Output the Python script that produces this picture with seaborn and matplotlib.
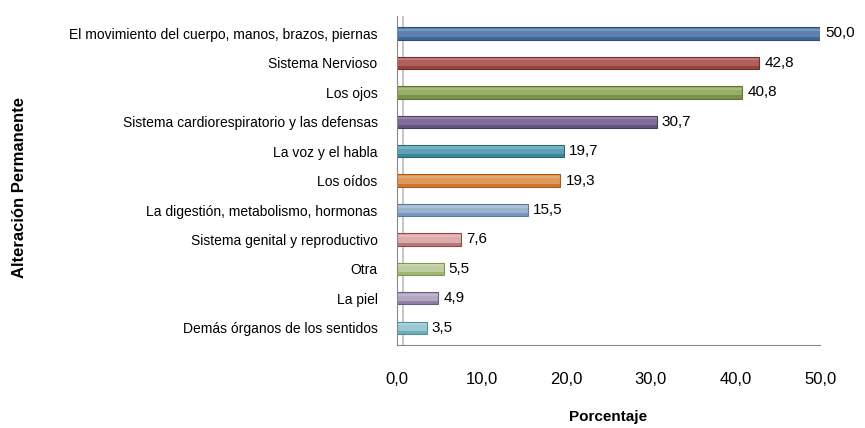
import matplotlib
matplotlib.use("Agg")
import matplotlib.pyplot as plt
import seaborn as sns
import pandas as pd

# Datos
categorias = [
    "El movimiento del cuerpo, manos, brazos, piernas",
    "Sistema Nervioso",
    "Los ojos",
    "Sistema cardiorespiratorio y las defensas",
    "La voz y el habla",
    "Los oídos",
    "La digestión, metabolismo, hormonas",
    "Sistema genital y reproductivo",
    "Otra",
    "La piel",
    "Demás órganos de los sentidos",
]
porcentajes = [50.0, 42.8, 40.8, 30.7, 19.7, 19.3, 15.5, 7.6, 5.5, 4.9, 3.5]
colores = ["#4F81BD", "#C0504D", "#9BBB59", "#8064A2", "#4BACC6", "#F79646",
           "#95B3D7", "#E6A3A1", "#C3D69B", "#B3A2C7", "#93CDDD"]
bordes = ["#2C4D75", "#772C2A", "#5F7530", "#4D3B62", "#276A7C", "#B65708",
          "#5A7AA6", "#944A48", "#7F9A4A", "#6F5A8A", "#4E8FA3"]
xticks = [0, 10, 20, 30, 40, 50]

df = pd.DataFrame({"categoria": categorias, "porcentaje": porcentajes})

sns.set_style("white")
plt.rcParams["font.family"] = ["Liberation Sans", "DejaVu Sans"]
plt.rcParams["text.color"] = "black"
plt.rcParams["xtick.color"] = "black"
plt.rcParams["ytick.color"] = "black"
plt.rcParams["axes.labelcolor"] = "black"

fig = plt.figure(figsize=(8.65, 4.28), dpi=100)
ax = fig.add_axes([0.459, 0.193, 0.489, 0.77])

sns.barplot(data=df, x="porcentaje", y="categoria", hue="categoria",
            palette=colores, legend=False, width=0.42, ax=ax)

# sombra inferior para imitar el efecto 3D
for patch, borde in zip(ax.patches, bordes):
    patch.set_edgecolor(borde)
    patch.set_linewidth(0.8)
    x0, y0 = patch.get_x(), patch.get_y()
    w, h = patch.get_width(), patch.get_height()
    ax.add_patch(plt.Rectangle((x0, y0 + h * 0.75), w, h * 0.25,
                               color=borde, alpha=0.5, lw=0))
    ax.add_patch(plt.Rectangle((x0, y0 + h * 0.12), w, h * 0.18,
                               color="white", alpha=0.18, lw=0))

for i, v in enumerate(porcentajes):
    ax.text(v + 0.6, i, f"{v:.1f}".replace(".", ","), va="center", ha="left",
            fontsize=11, color="black")

ax.set_xlim(0, 50)
ax.set_ylim(10.6, -0.6)
ax.set_xticks(xticks)
ax.set_xticklabels([f"{t:.1f}".replace(".", ",") for t in xticks], fontsize=12)
ax.tick_params(axis="x", direction="out", length=5, color="#888888", pad=14)
ax.tick_params(axis="y", length=0, labelsize=10, pad=14)

for s in ["top", "right"]:
    ax.spines[s].set_visible(False)
ax.spines["left"].set_color("#888888")
ax.spines["bottom"].set_color("#888888")
ax.axvline(0.7, color="#BBBBBB", lw=1.2, zorder=0)

ax.set_xlabel("")
ax.set_ylabel("")
fig.text(608 / 865, 1 - 417 / 428, "Porcentaje", ha="center", va="center",
         fontsize=11, fontweight="bold")
fig.text(20 / 865, 1 - 187 / 428, "Alteración Permanente", ha="center",
         va="center", rotation=90, fontsize=12, fontweight="bold")

fig.savefig("out.png", dpi=100)
